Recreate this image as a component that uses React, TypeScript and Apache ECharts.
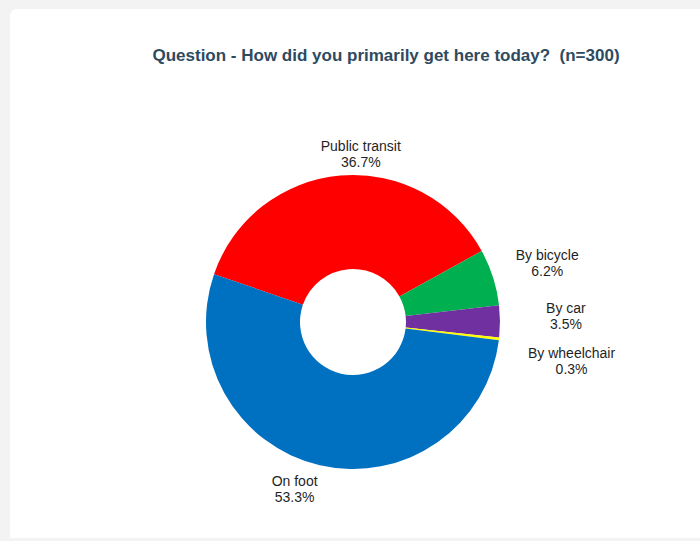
import React, { useEffect, useRef } from "react";
import * as echarts from "echarts";

const categories = ["Public transit", "By bicycle", "By car", "By wheelchair", "On foot"];
const values = [36.7, 6.2, 3.5, 0.3, 53.3];
const colors = ["#FF0000", "#00B050", "#7030A0", "#FFFF00", "#0070C0"];
// label placement: radial distance from centre and angle shift (degrees)
const labelDist = [168, 203, 213, 222, 177];
const labelShift = [-7.6, -0.8, 1.35, -3.5, -6.2];

const START = 161;
const CX = 353;
const CY = 322;

export default function App() {
  const ref = useRef<HTMLDivElement>(null);
  useEffect(() => {
    if (!ref.current) return;
    const chart = echarts.init(ref.current, null, { renderer: "svg" });
    const total = values.reduce((a, b) => a + b, 0);
    const mids: number[] = [];
    let acc = 0;
    values.forEach((v) => {
      const a = (v / total) * 360;
      mids.push(START - acc - a / 2);
      acc += a;
    });
    chart.setOption({
      animation: false,
      backgroundColor: "#F3F3F3",
      graphic: [
        {
          type: "rect",
          shape: { x: 10, y: 9, width: 700, height: 529, r: [7, 0, 0, 0] },
          style: { fill: "#FFFFFF" },
          z: -10,
        },
        {
          type: "text",
          x: 386,
          y: 55,
          style: {
            text: "Question - How did you primarily get here today?  (n=300)",
            font: "bold 17px 'Liberation Sans', Arial, sans-serif",
            fill: "#2E4A5F",
            align: "center",
            verticalAlign: "middle",
          },
        },
      ],
      series: [
        {
          type: "pie",
          center: [CX, CY],
          radius: [53, 147],
          startAngle: START,
          clockwise: true,
          avoidLabelOverlap: false,
          itemStyle: { borderWidth: 0 },
          label: {
            show: true,
            position: "outside",
            formatter: (p: any) => `${p.name}\n${p.value.toFixed(1)}%`,
            fontFamily: "'Liberation Sans', Arial, sans-serif",
            fontSize: 14,
            lineHeight: 16,
            color: "#1F1F1F",
            align: "center",
          },
          labelLine: { show: false },
          labelLayout: (params: any) => {
            const i = params.dataIndex;
            const ang = ((mids[i] + labelShift[i]) * Math.PI) / 180;
            return {
              x: CX + labelDist[i] * Math.cos(ang),
              y: CY - labelDist[i] * Math.sin(ang),
              align: "center",
              verticalAlign: "middle",
            };
          },
          emphasis: { disabled: true },
          data: categories.map((c, i) => ({
            name: c,
            value: values[i],
            itemStyle: { color: colors[i] },
          })),
        },
      ],
    });
    return () => chart.dispose();
  }, []);
  return (
    <div
      ref={ref}
      style={{ position: "fixed", left: 0, top: 0, width: 700, height: 541 }}
    />
  );
}
